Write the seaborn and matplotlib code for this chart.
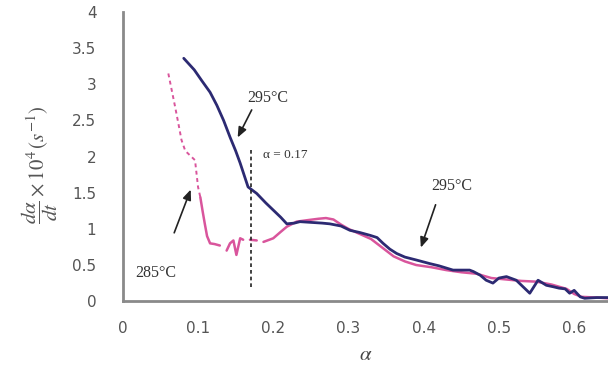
import numpy as np
import pandas as pd
import matplotlib
matplotlib.use("Agg")
import matplotlib.pyplot as plt
import seaborn as sns

# ---- data ----
blue_x = [0.081, 0.095, 0.105, 0.116, 0.125, 0.134, 0.1425, 0.150, 0.156, 0.1665,
          0.178, 0.19, 0.2, 0.21, 0.218, 0.228, 0.2355, 0.25, 0.265, 0.275, 0.29,
          0.302, 0.315, 0.329, 0.338, 0.346, 0.355, 0.364, 0.375, 0.39, 0.408, 0.42,
          0.439, 0.448, 0.461, 0.466, 0.475, 0.483, 0.492, 0.5, 0.51, 0.523, 0.53,
          0.541, 0.552, 0.563, 0.572, 0.58, 0.588, 0.594, 0.6, 0.608, 0.614, 0.63, 0.645]
blue_y = [3.36, 3.2, 3.05, 2.89, 2.71, 2.5, 2.27, 2.08, 1.91, 1.58,
          1.49, 1.36, 1.26, 1.16, 1.07, 1.08, 1.10, 1.09, 1.08, 1.07, 1.04,
          0.98, 0.95, 0.91, 0.88, 0.80, 0.72, 0.66, 0.61, 0.57, 0.52, 0.49,
          0.43, 0.43, 0.43, 0.41, 0.36, 0.29, 0.25, 0.32, 0.34, 0.29, 0.22,
          0.11, 0.29, 0.22, 0.20, 0.18, 0.17, 0.11, 0.15, 0.06, 0.04, 0.05, 0.05]

pink_dash_x = [0.0605, 0.065, 0.0695, 0.074, 0.078, 0.083, 0.089, 0.096, 0.100, 0.103]
pink_dash_y = [3.15, 2.92, 2.69, 2.45, 2.23, 2.08, 2.02, 1.95, 1.58, 1.44]

pink_x = [0.103, 0.106, 0.109, 0.112, 0.116, 0.122, 0.129,
          0.138, 0.1425, 0.147, 0.151, 0.156, 0.160,
          0.169, 0.178,
          0.187, 0.2, 0.21, 0.218, 0.231, 0.245, 0.26, 0.27, 0.28, 0.29, 0.3,
          0.315, 0.33, 0.34, 0.35, 0.36, 0.375, 0.39, 0.41, 0.43, 0.45, 0.47,
          0.49, 0.51, 0.53, 0.55, 0.57, 0.59, 0.6, 0.61, 0.63, 0.645]
pink_y = [1.44, 1.25, 1.07, 0.9, 0.80, 0.79, 0.77,
          0.70, 0.80, 0.84, 0.64, 0.87, 0.85,
          0.85, 0.84,
          0.82, 0.87, 0.96, 1.03, 1.10, 1.12, 1.14, 1.15, 1.13, 1.06, 1.0,
          0.93, 0.86, 0.78, 0.70, 0.62, 0.55, 0.50, 0.47, 0.43, 0.40, 0.38,
          0.32, 0.30, 0.28, 0.27, 0.23, 0.17, 0.10, 0.06, 0.05, 0.04]
pink_seg = [0]*7 + [1]*6 + [2]*2 + [3]*32

x_ticks = [0, 0.1, 0.2, 0.3, 0.4, 0.5, 0.6]
x_ticklabels = ["0", "0.1", "0.2", "0.3", "0.4", "0.5", "0.6"]
y_ticks = [0, 0.5, 1, 1.5, 2, 2.5, 3, 3.5, 4]
y_ticklabels = ["0", "0.5", "1", "1.5", "2", "2.5", "3", "3.5", "4"]

# ---- plot ----
sns.set_style("white")
plt.rcParams['font.family'] = ['DejaVu Sans']
plt.rcParams['mathtext.fontset'] = 'stix'

fig = plt.figure(figsize=(6.08, 3.76), dpi=100)
ax = fig.add_axes([0.202, 0.199, 0.798, 0.769])

BLUE = "#2c2a72"
PINK = "#d9559c"

df_pd = pd.DataFrame({"x": pink_dash_x, "y": pink_dash_y})
sns.lineplot(data=df_pd, x="x", y="y", ax=ax, color=PINK, lw=1.4,
             linestyle=(0, (2.0, 1.8)), estimator=None, sort=False)

df_p = pd.DataFrame({"x": pink_x, "y": pink_y, "seg": pink_seg})
sns.lineplot(data=df_p, x="x", y="y", units="seg", ax=ax, color=PINK, lw=1.8,
             estimator=None, sort=False)

df_b = pd.DataFrame({"x": blue_x, "y": blue_y})
sns.lineplot(data=df_b, x="x", y="y", ax=ax, color=BLUE, lw=2.0,
             estimator=None, sort=False)

ax.vlines(0.17, 0.2, 2.13, colors="#222222", linestyles=(0, (2.2, 1.8)), lw=1.2)

ax.set_xlim(0, 0.645)
ax.set_ylim(0, 4)
ax.set_xticks(x_ticks)
ax.set_xticklabels(x_ticklabels)
ax.set_yticks(y_ticks)
ax.set_yticklabels(y_ticklabels)

for s in ["top", "right"]:
    ax.spines[s].set_visible(False)
for s in ["left", "bottom"]:
    ax.spines[s].set_color("#8a8a8a")
    ax.spines[s].set_linewidth(2)

ax.tick_params(axis="both", direction="out", length=4, width=1.2,
               color="#8a8a8a", labelsize=11, labelcolor="#555555")
ax.tick_params(axis="x", pad=10)
ax.tick_params(axis="y", pad=15)

ax.set_xlabel(r"$\alpha$", fontsize=15, color="#444444", labelpad=6)
ax.set_ylabel(r"$\dfrac{d\alpha}{dt}\times10^{4}\,(s^{-1})$", fontsize=15,
              color="#555555")
ax.yaxis.set_label_coords(-0.13, 0.47)

serif = ["Liberation Serif", "DejaVu Serif"]
ax.text(0.166, 2.75, "295°C", family=serif, fontsize=11.5, color="#333333")
ax.text(0.186, 2.02, "α = 0.17", family=serif, fontsize=9.5, color="#333333",
        va="center")
ax.text(0.017, 0.39, "285°C", family=serif, fontsize=11.5, color="#333333",
        va="center")
ax.text(0.41, 1.6, "295°C", family=serif, fontsize=11.5, color="#333333",
        va="center")

arrow_kw = dict(arrowstyle="-|>,head_length=0.6,head_width=0.25", color="#222222", lw=1.2)
ax.annotate("", xy=(0.151, 2.23), xytext=(0.173, 2.68), arrowprops=arrow_kw)
ax.annotate("", xy=(0.0916, 1.58), xytext=(0.067, 0.91), arrowprops=arrow_kw)
ax.annotate("", xy=(0.395, 0.705), xytext=(0.417, 1.37), arrowprops=arrow_kw)

fig.savefig("out.png", dpi=100)
